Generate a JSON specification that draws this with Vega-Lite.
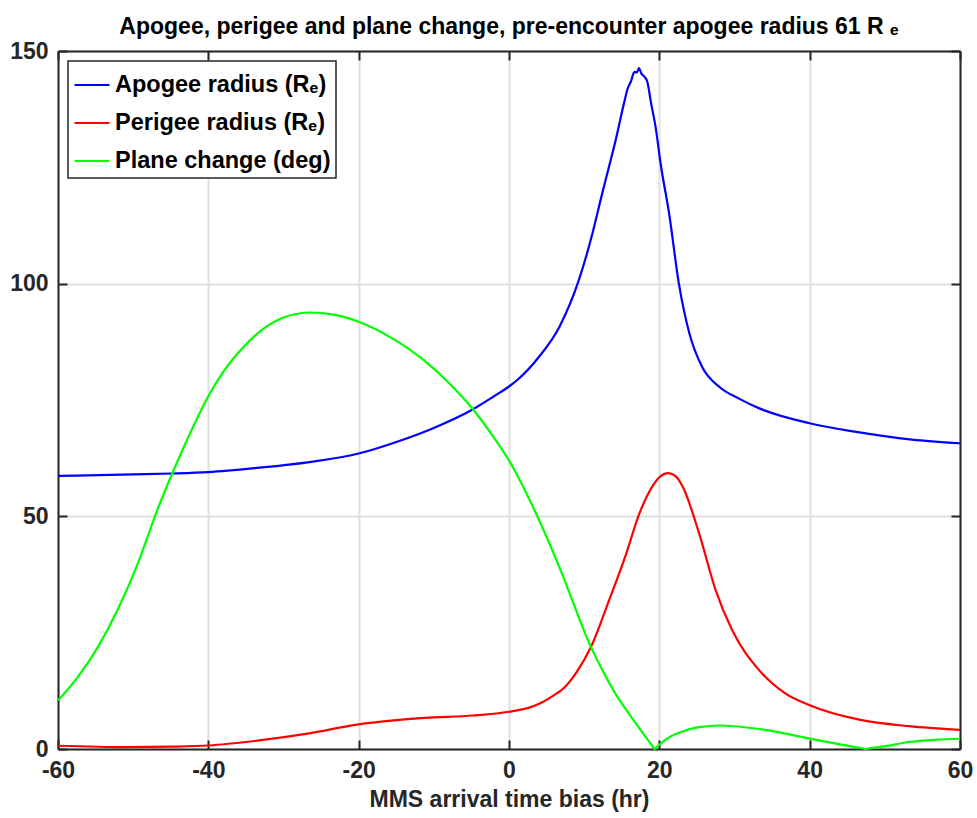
{
  "$schema": "https://vega.github.io/schema/vega-lite/v6.json",
  "width": 902,
  "height": 698,
  "autosize": {"type": "none"},
  "padding": {"left": 58, "top": 51, "right": 17, "bottom": 69},
  "title": {
    "text": "Apogee, perigee and plane change, pre-encounter apogee radius 61 R ₑ",
    "fontSize": 23,
    "fontWeight": "bold",
    "color": "#000000",
    "offset": 1,
    "anchor": "middle"
  },
  "config": {
    "font": "Liberation Sans",
    "view": {"stroke": null},
    "legend": {"strokeColor": "#262626", "strokeWidth": 1.5, "fillColor": "#ffffff", "cornerRadius": 0}
  },
  "data": {
    "values": [
      {"t": -60, "v": 58.7, "s": "Apogee radius (Rₑ)"},
      {"t": -50, "v": 59.0, "s": "Apogee radius (Rₑ)"},
      {"t": -44.8, "v": 59.2, "s": "Apogee radius (Rₑ)"},
      {"t": -40, "v": 59.5, "s": "Apogee radius (Rₑ)"},
      {"t": -33.5, "v": 60.4, "s": "Apogee radius (Rₑ)"},
      {"t": -26.8, "v": 61.6, "s": "Apogee radius (Rₑ)"},
      {"t": -20, "v": 63.5, "s": "Apogee radius (Rₑ)"},
      {"t": -14.6, "v": 66.2, "s": "Apogee radius (Rₑ)"},
      {"t": -10, "v": 69.0, "s": "Apogee radius (Rₑ)"},
      {"t": -4.9, "v": 72.9, "s": "Apogee radius (Rₑ)"},
      {"t": -2, "v": 75.8, "s": "Apogee radius (Rₑ)"},
      {"t": 0, "v": 77.9, "s": "Apogee radius (Rₑ)"},
      {"t": 1.1, "v": 79.3, "s": "Apogee radius (Rₑ)"},
      {"t": 4.0, "v": 84.3, "s": "Apogee radius (Rₑ)"},
      {"t": 6.7, "v": 90.7, "s": "Apogee radius (Rₑ)"},
      {"t": 9.3, "v": 100.8, "s": "Apogee radius (Rₑ)"},
      {"t": 11.1, "v": 110.8, "s": "Apogee radius (Rₑ)"},
      {"t": 12.4, "v": 119.4, "s": "Apogee radius (Rₑ)"},
      {"t": 13.3, "v": 125.1, "s": "Apogee radius (Rₑ)"},
      {"t": 14.2, "v": 130.9, "s": "Apogee radius (Rₑ)"},
      {"t": 15.3, "v": 138.8, "s": "Apogee radius (Rₑ)"},
      {"t": 15.8, "v": 142.0, "s": "Apogee radius (Rₑ)"},
      {"t": 16.2, "v": 143.4, "s": "Apogee radius (Rₑ)"},
      {"t": 16.7, "v": 145.5, "s": "Apogee radius (Rₑ)"},
      {"t": 17.0, "v": 145.4, "s": "Apogee radius (Rₑ)"},
      {"t": 17.3, "v": 146.3, "s": "Apogee radius (Rₑ)"},
      {"t": 17.6, "v": 145.2, "s": "Apogee radius (Rₑ)"},
      {"t": 18.0, "v": 144.5, "s": "Apogee radius (Rₑ)"},
      {"t": 18.4, "v": 143.4, "s": "Apogee radius (Rₑ)"},
      {"t": 18.9, "v": 138.8, "s": "Apogee radius (Rₑ)"},
      {"t": 19.5, "v": 133.7, "s": "Apogee radius (Rₑ)"},
      {"t": 20.2, "v": 125.5, "s": "Apogee radius (Rₑ)"},
      {"t": 21.3, "v": 115.1, "s": "Apogee radius (Rₑ)"},
      {"t": 22.6, "v": 100.0, "s": "Apogee radius (Rₑ)"},
      {"t": 24.0, "v": 89.3, "s": "Apogee radius (Rₑ)"},
      {"t": 25.7, "v": 82.1, "s": "Apogee radius (Rₑ)"},
      {"t": 28.0, "v": 77.8, "s": "Apogee radius (Rₑ)"},
      {"t": 30.6, "v": 75.3, "s": "Apogee radius (Rₑ)"},
      {"t": 33.3, "v": 73.2, "s": "Apogee radius (Rₑ)"},
      {"t": 40, "v": 70.0, "s": "Apogee radius (Rₑ)"},
      {"t": 46, "v": 68.2, "s": "Apogee radius (Rₑ)"},
      {"t": 53.6, "v": 66.5, "s": "Apogee radius (Rₑ)"},
      {"t": 60, "v": 65.7, "s": "Apogee radius (Rₑ)"},

      {"t": -60, "v": 0.7, "s": "Perigee radius (Rₑ)"},
      {"t": -51, "v": 0.4, "s": "Perigee radius (Rₑ)"},
      {"t": -45, "v": 0.5, "s": "Perigee radius (Rₑ)"},
      {"t": -40, "v": 0.75, "s": "Perigee radius (Rₑ)"},
      {"t": -33.5, "v": 1.8, "s": "Perigee radius (Rₑ)"},
      {"t": -26.8, "v": 3.3, "s": "Perigee radius (Rₑ)"},
      {"t": -20, "v": 5.3, "s": "Perigee radius (Rₑ)"},
      {"t": -15.7, "v": 6.1, "s": "Perigee radius (Rₑ)"},
      {"t": -11.3, "v": 6.7, "s": "Perigee radius (Rₑ)"},
      {"t": -4.7, "v": 7.2, "s": "Perigee radius (Rₑ)"},
      {"t": 0, "v": 8.0, "s": "Perigee radius (Rₑ)"},
      {"t": 2.9, "v": 9.0, "s": "Perigee radius (Rₑ)"},
      {"t": 4.0, "v": 9.7, "s": "Perigee radius (Rₑ)"},
      {"t": 6.4, "v": 12.0, "s": "Perigee radius (Rₑ)"},
      {"t": 7.1, "v": 12.8, "s": "Perigee radius (Rₑ)"},
      {"t": 9.0, "v": 16.5, "s": "Perigee radius (Rₑ)"},
      {"t": 10.9, "v": 21.9, "s": "Perigee radius (Rₑ)"},
      {"t": 13.3, "v": 31.9, "s": "Perigee radius (Rₑ)"},
      {"t": 15.6, "v": 42.0, "s": "Perigee radius (Rₑ)"},
      {"t": 17.3, "v": 50.4, "s": "Perigee radius (Rₑ)"},
      {"t": 19.1, "v": 56.5, "s": "Perigee radius (Rₑ)"},
      {"t": 20.0, "v": 58.4, "s": "Perigee radius (Rₑ)"},
      {"t": 21.2, "v": 59.3, "s": "Perigee radius (Rₑ)"},
      {"t": 22.2, "v": 58.6, "s": "Perigee radius (Rₑ)"},
      {"t": 23.1, "v": 56.4, "s": "Perigee radius (Rₑ)"},
      {"t": 25.3, "v": 46.3, "s": "Perigee radius (Rₑ)"},
      {"t": 27.5, "v": 34.1, "s": "Perigee radius (Rₑ)"},
      {"t": 29.7, "v": 25.5, "s": "Perigee radius (Rₑ)"},
      {"t": 33.3, "v": 16.9, "s": "Perigee radius (Rₑ)"},
      {"t": 36.8, "v": 11.9, "s": "Perigee radius (Rₑ)"},
      {"t": 40, "v": 9.4, "s": "Perigee radius (Rₑ)"},
      {"t": 46.6, "v": 6.3, "s": "Perigee radius (Rₑ)"},
      {"t": 53.2, "v": 4.9, "s": "Perigee radius (Rₑ)"},
      {"t": 60, "v": 4.1, "s": "Perigee radius (Rₑ)"},

      {"t": -60, "v": 10.4, "s": "Plane change (deg)"},
      {"t": -57.4, "v": 15.4, "s": "Plane change (deg)"},
      {"t": -54.7, "v": 21.9, "s": "Plane change (deg)"},
      {"t": -52.1, "v": 29.8, "s": "Plane change (deg)"},
      {"t": -49.4, "v": 39.8, "s": "Plane change (deg)"},
      {"t": -46.8, "v": 51.3, "s": "Plane change (deg)"},
      {"t": -44.8, "v": 59.2, "s": "Plane change (deg)"},
      {"t": -42.3, "v": 68.3, "s": "Plane change (deg)"},
      {"t": -40, "v": 75.8, "s": "Plane change (deg)"},
      {"t": -37.9, "v": 81.3, "s": "Plane change (deg)"},
      {"t": -35.2, "v": 86.6, "s": "Plane change (deg)"},
      {"t": -32.6, "v": 90.4, "s": "Plane change (deg)"},
      {"t": -29.9, "v": 92.8, "s": "Plane change (deg)"},
      {"t": -26.4, "v": 93.8, "s": "Plane change (deg)"},
      {"t": -22.8, "v": 93.2, "s": "Plane change (deg)"},
      {"t": -20, "v": 91.8, "s": "Plane change (deg)"},
      {"t": -15.7, "v": 88.4, "s": "Plane change (deg)"},
      {"t": -11.3, "v": 83.5, "s": "Plane change (deg)"},
      {"t": -8.4, "v": 79.3, "s": "Plane change (deg)"},
      {"t": -4.8, "v": 73.0, "s": "Plane change (deg)"},
      {"t": -2.4, "v": 67.8, "s": "Plane change (deg)"},
      {"t": 0, "v": 62.0, "s": "Plane change (deg)"},
      {"t": 3.6, "v": 50.6, "s": "Plane change (deg)"},
      {"t": 6.7, "v": 39.1, "s": "Plane change (deg)"},
      {"t": 10.9, "v": 21.9, "s": "Plane change (deg)"},
      {"t": 12.9, "v": 15.5, "s": "Plane change (deg)"},
      {"t": 14.2, "v": 11.8, "s": "Plane change (deg)"},
      {"t": 16.0, "v": 7.5, "s": "Plane change (deg)"},
      {"t": 17.5, "v": 4.1, "s": "Plane change (deg)"},
      {"t": 18.5, "v": 1.9, "s": "Plane change (deg)"},
      {"t": 19.1, "v": 0.6, "s": "Plane change (deg)"},
      {"t": 19.4, "v": 0, "s": "Plane change (deg)"},
      {"t": 19.7, "v": 0.5, "s": "Plane change (deg)"},
      {"t": 20.2, "v": 1.2, "s": "Plane change (deg)"},
      {"t": 21.5, "v": 2.7, "s": "Plane change (deg)"},
      {"t": 23.5, "v": 4.0, "s": "Plane change (deg)"},
      {"t": 25.3, "v": 4.7, "s": "Plane change (deg)"},
      {"t": 28.0, "v": 5.05, "s": "Plane change (deg)"},
      {"t": 33.3, "v": 4.3, "s": "Plane change (deg)"},
      {"t": 39.9, "v": 2.3, "s": "Plane change (deg)"},
      {"t": 44, "v": 1.0, "s": "Plane change (deg)"},
      {"t": 47.1, "v": 0.1, "s": "Plane change (deg)"},
      {"t": 47.5, "v": 0, "s": "Plane change (deg)"},
      {"t": 48.0, "v": 0.15, "s": "Plane change (deg)"},
      {"t": 50, "v": 0.6, "s": "Plane change (deg)"},
      {"t": 53.2, "v": 1.5, "s": "Plane change (deg)"},
      {"t": 57, "v": 2.0, "s": "Plane change (deg)"},
      {"t": 60, "v": 2.2, "s": "Plane change (deg)"}
    ]
  },
  "layer": [
    {
      "mark": {"type": "line", "strokeOpacity": 0},
      "encoding": {
        "x": {
          "field": "t", "type": "quantitative",
          "scale": {"domain": [-60, 60], "nice": false, "zero": false},
          "axis": {"orient": "top", "title": null, "labels": false, "grid": false,
                   "values": [-60, -40, -20, 0, 20, 40, 60],
                   "domainColor": "#262626", "domainWidth": 2,
                   "tickColor": "#262626", "tickWidth": 2, "tickSize": -9}
        },
        "y": {
          "field": "v", "type": "quantitative",
          "scale": {"domain": [0, 150], "nice": false, "zero": false},
          "axis": {"orient": "right", "title": null, "labels": false, "grid": false,
                   "values": [0, 50, 100, 150],
                   "domainColor": "#262626", "domainWidth": 2,
                   "tickColor": "#262626", "tickWidth": 2, "tickSize": -9}
        },
        "detail": {"field": "s"}
      }
    },
    {
      "mark": {"type": "line", "strokeWidth": 2.2, "interpolate": "monotone"},
      "encoding": {
        "x": {
          "field": "t", "type": "quantitative",
          "scale": {"domain": [-60, 60], "nice": false, "zero": false},
          "axis": {"orient": "bottom", "title": "MMS arrival time bias (hr)",
                   "values": [-60, -40, -20, 0, 20, 40, 60],
                   "labelExpr": "'' + datum.value",
                   "labelFontSize": 23, "labelFontWeight": "bold", "labelColor": "#262626",
                   "labelFlush": false, "labelPadding": 19,
                   "titleFontSize": 23, "titleFontWeight": "bold", "titleColor": "#262626",
                   "titlePadding": 6,
                   "domainColor": "#262626", "domainWidth": 2,
                   "tickColor": "#262626", "tickWidth": 2, "tickSize": -9,
                   "grid": true, "gridColor": "#e0e0e0", "gridWidth": 2}
        },
        "y": {
          "field": "v", "type": "quantitative",
          "scale": {"domain": [0, 150], "nice": false, "zero": false},
          "axis": {"orient": "left", "title": null,
                   "values": [0, 50, 100, 150],
                   "labelFontSize": 23, "labelFontWeight": "bold", "labelColor": "#262626",
                   "labelFlush": false, "labelPadding": 19,
                   "domainColor": "#262626", "domainWidth": 2,
                   "tickColor": "#262626", "tickWidth": 2, "tickSize": -9,
                   "grid": true, "gridColor": "#e0e0e0", "gridWidth": 2}
        },
        "color": {
          "field": "s", "type": "nominal",
          "scale": {
            "domain": ["Apogee radius (Rₑ)", "Perigee radius (Rₑ)", "Plane change (deg)"],
            "range": ["#0000ff", "#ff0000", "#00ff00"]
          },
          "legend": {
            "orient": "top-left", "offset": 10, "title": null,
            "symbolType": "stroke", "symbolSize": 1225, "symbolStrokeWidth": 2.2,
            "labelFontSize": 23.5, "labelFontWeight": "bold", "labelColor": "#000000",
            "labelOffset": 4, "labelLimit": 400, "padding": 5, "rowPadding": 7
          }
        }
      }
    }
  ],
  "resolve": {"axis": {"x": "independent", "y": "independent"}}
}
